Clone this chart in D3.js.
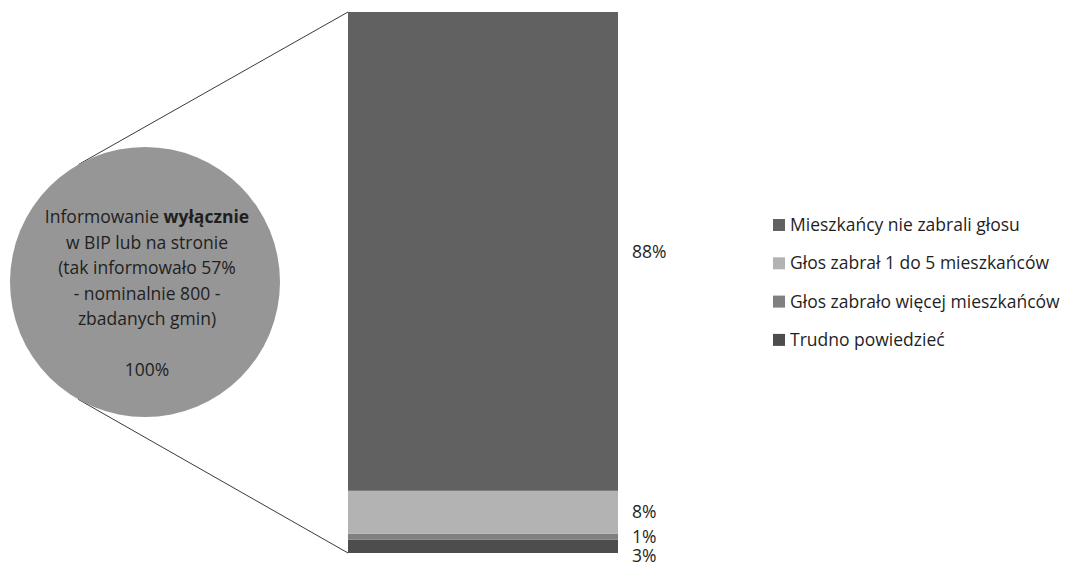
<!DOCTYPE html>
<html>
<head>
<meta charset="utf-8">
<script src="https://cdn.jsdelivr.net/npm/d3@7"></script>
<style>
  body { margin: 0; background: #fff; }
  svg text { font-family: "Open Sans", Lato, sans-serif; fill: #1f1f1f; }
</style>
</head>
<body>
<div id="chart"></div>
<script>
// data
const categories = ["Mieszkańcy nie zabrali głosu", "Głos zabrał 1 do 5 mieszkańców",
    "Głos zabrało więcej mieszkańców", "Trudno powiedzieć"];
const values = [88.5, 7.9, 1.1, 2.5];
const valueLabels = ["88%", "8%", "1%", "3%"];
const colors = ["#616161", "#b3b3b3", "#808080", "#4d4d4d"];
const circleLines = ["Informowanie |wyłącznie", "w BIP lub na stronie", "(tak informowało 57%",
    "- nominalnie 800 -", "zbadanych gmin)", "", "100%"];

// constants
const width = 1082, height = 566;
const barX = 348, barW = 270, barTop = 12, barBottom = 553;
const cx = 145, cy = 282, r = 135;
const fontSize = "17.5px";

const svg = d3.select("#chart").append("svg")
    .attr("width", width).attr("height", height);

// stack bottom-up: last category sits at the bottom
const y = d3.scaleLinear().domain([0, d3.sum(values)]).range([barBottom, barTop]);
let acc = 0;
const segs = values.map((v, i) => ({ i, v }))
    .reverse()
    .map(d => { const s = { ...d, y0: acc, y1: acc + d.v }; acc += d.v; return s; });

svg.append("g").selectAll("rect").data(segs).enter().append("rect")
    .attr("x", barX)
    .attr("width", barW)
    .attr("y", d => y(d.y1))
    .attr("height", d => y(d.y0) - y(d.y1))
    .style("fill", d => colors[d.i]);

// value labels (small ones pushed apart a bit)
const labelY = [y(acc - values[0] / 2), y(values[3] + values[2] + values[1] / 2), 537, 556];
svg.append("g").selectAll("text").data(valueLabels).enter().append("text")
    .attr("x", 632)
    .attr("y", (d, i) => labelY[i])
    .attr("dy", "0.35em")
    .style("font-size", fontSize)
    .text(d => d);

// connector lines, tangent to the circle
function tangent(px, py, upper) {
    const dx = px - cx, dy = py - cy;
    const d = Math.hypot(dx, dy);
    const a = Math.atan2(dy, dx) + (upper ? -1 : 1) * Math.acos(r / d);
    return [cx + r * Math.cos(a), cy + r * Math.sin(a)];
}
[[barX, y.range()[1], true], [barX, y.range()[0], false]].forEach(([px, py, up]) => {
    const t = tangent(px, py, up);
    svg.append("line")
        .attr("x1", t[0]).attr("y1", t[1])
        .attr("x2", px).attr("y2", py)
        .style("stroke", "#3a3a3a")
        .style("stroke-width", 1);
});

// circle
svg.append("circle").attr("cx", cx).attr("cy", cy).attr("r", r).style("fill", "#969696");

const ct = svg.append("text").attr("text-anchor", "middle").style("font-size", fontSize);
circleLines.forEach((line, i) => {
    const t = ct.append("tspan").attr("x", cx + 2).attr("y", 217 + i * 25.5).attr("dy", "0.35em");
    const parts = line.split("|");
    t.text(parts[0]);
    if (parts[1]) ct.append("tspan").style("font-weight", "bold").text(parts[1]);
});

// legend
const legend = svg.append("g").selectAll("g").data(categories).enter().append("g")
    .attr("transform", (d, i) => `translate(773, ${225 + i * 38.3})`);
legend.append("rect").attr("x", 0).attr("y", -6).attr("width", 12).attr("height", 12)
    .style("fill", (d, i) => colors[i]);
legend.append("text").attr("x", 17).attr("dy", "0.35em")
    .style("font-size", fontSize)
    .text(d => d);
</script>
</body>
</html>
